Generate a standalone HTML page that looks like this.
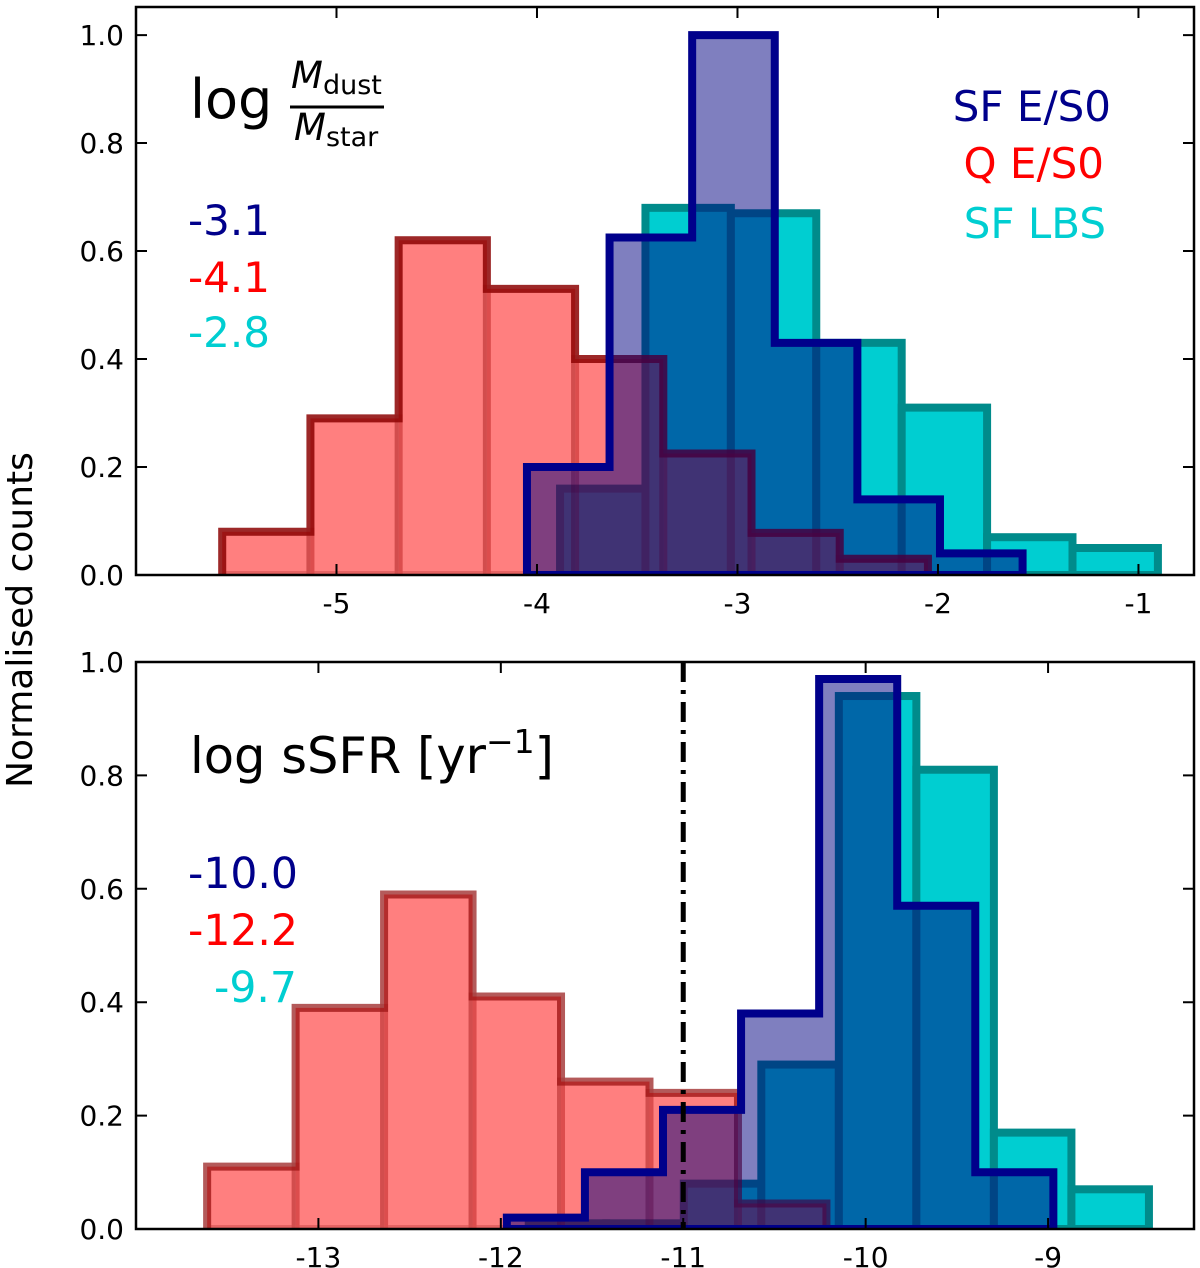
<!DOCTYPE html>
<html><head><meta charset="utf-8"><style>
html,body{margin:0;padding:0;background:#fff;}
svg{display:block;font-family:"DejaVu Sans","Liberation Sans",sans-serif;}
</style></head><body>
<svg id="chart" width="1200" height="1268" viewBox="0 0 1200 1268" xmlns="http://www.w3.org/2000/svg">
<g id="top"></g>
<g id="bot"></g>
<text x="0" y="0" transform="translate(32,620) rotate(-90)" text-anchor="middle" font-size="36">Normalised counts</text>
<g>
<text x="190" y="118" font-size="54">log</text>
<text x="291" y="88" font-size="37" font-style="italic">M<tspan font-style="normal" font-size="27" dy="6">dust</tspan></text>
<line x1="290" y1="107" x2="384" y2="107" stroke="#000" stroke-width="3"/>
<text x="294" y="140" font-size="37" font-style="italic">M<tspan font-style="normal" font-size="27" dy="6">star</tspan></text>
<text x="1111" y="121" text-anchor="end" font-size="42" fill="#00008b">SF E/S0</text>
<text x="1104" y="178" text-anchor="end" font-size="42" fill="#ff0000">Q E/S0</text>
<text x="1106" y="238" text-anchor="end" font-size="42" fill="#00ced1">SF LBS</text>
<text x="188" y="235" font-size="42" fill="#00008b">-3.1</text>
<text x="188" y="292" font-size="42" fill="#ff0000">-4.1</text>
<text x="188" y="347" font-size="42" fill="#00ced1">-2.8</text>
</g>
<g>
<text x="190" y="773" font-size="49.5">log sSFR [yr<tspan font-size="33" dy="-20">−1</tspan><tspan dy="20">]</tspan></text>
<text x="188" y="888" font-size="42.5" fill="#00008b">-10.0</text>
<text x="188" y="945" font-size="42.5" fill="#ff0000">-12.2</text>
<text x="214" y="1002" font-size="42.5" fill="#00ced1">-9.7</text>
</g>
</svg>
<script>
// ---- Top panel data (log Mdust/Mstar) ----
const topXTicks = [-5, -4, -3, -2, -1];
const topYTicks = [0.0, 0.2, 0.4, 0.6, 0.8, 1.0];
const topQStart = -5.57, topQWidth = 0.44;
const topQCounts = [0.08, 0.29, 0.62, 0.53, 0.40, 0.225, 0.078, 0.03];
const topLbsStart = -3.885, topLbsWidth = 0.426;
const topLbsCounts = [0.16, 0.68, 0.67, 0.43, 0.31, 0.07, 0.05];
const topSfStart = -4.05, topSfWidth = 0.412;
const topSfCounts = [0.20, 0.625, 1.0, 0.43, 0.14, 0.04];
// ---- Bottom panel data (log sSFR) ----
const botXTicks = [-13, -12, -11, -10, -9];
const botYTicks = [0.0, 0.2, 0.4, 0.6, 0.8, 1.0];
const botQStart = -13.61, botQWidth = 0.485;
const botQCounts = [0.11, 0.39, 0.59, 0.41, 0.26, 0.24, 0.045];
const botLbsStart = -11.847, botLbsWidth = 0.425;
const botLbsCounts = [0.01, 0.01, 0.08, 0.29, 0.94, 0.81, 0.17, 0.07];
const botSfStart = -11.967, botSfWidth = 0.428;
const botSfCounts = [0.02, 0.10, 0.21, 0.38, 0.97, 0.57, 0.10];
const threshold = -11;

const NS = "http://www.w3.org/2000/svg";
function mk(parent, tag, attrs){
  const e = document.createElementNS(NS, tag);
  for (const k in attrs) e.setAttribute(k, attrs[k]);
  parent.appendChild(e);
  return e;
}

function stepPath(xs, ys, s){
  let d = 'M' + xs(s.start) + ',' + ys(0);
  s.counts.forEach((c, i) => {
    const a = s.start + i * s.width;
    d += ' L' + xs(a) + ',' + ys(c) + ' L' + xs(a + s.width) + ',' + ys(c);
  });
  d += ' L' + xs(s.start + s.counts.length * s.width) + ',' + ys(0);
  return d;
}

function panel(g, cfg){
  const xs = v => cfg.px0 + (v - cfg.xmin) / (cfg.xmax - cfg.xmin) * (cfg.px1 - cfg.px0);
  const ys = v => cfg.py0 - (v - cfg.ymin) / (cfg.ymax - cfg.ymin) * (cfg.py0 - cfg.py1);
  const clip = mk(g, 'clipPath', {id: cfg.id + '-clip'});
  mk(clip, 'rect', {x: cfg.px0, y: cfg.py1, width: cfg.px1 - cfg.px0, height: cfg.py0 - cfg.py1});
  const plot = mk(g, 'g', {'clip-path': 'url(#' + cfg.id + '-clip)'});

  // cyan bars
  cfg.lbs.counts.forEach((c, i) => {
    const a = cfg.lbs.start + i * cfg.lbs.width;
    const r = mk(plot, 'rect', {x: xs(a), y: ys(c), width: xs(a + cfg.lbs.width) - xs(a), height: ys(0) - ys(c),
      fill: '#00ced1', stroke: '#008b8b', 'stroke-width': 8});
    
    
  });
  // red bars
  cfg.q.counts.forEach((c, i) => {
    const a = cfg.q.start + i * cfg.q.width;
    const r = mk(plot, 'rect', {x: xs(a), y: ys(c), width: xs(a + cfg.q.width) - xs(a), height: ys(0) - ys(c),
      fill: 'rgba(255,0,0,0.5)', stroke: 'rgba(139,0,0,0.22)', 'stroke-width': 8});
    
    
  });
  const qo = mk(plot, 'path', {d: stepPath(xs, ys, cfg.q), fill: 'none', stroke: cfg.qStroke, 'stroke-width': 8});
  
  

  // navy step-filled
  const p = mk(plot, 'path', {d: stepPath(xs, ys, cfg.sf) + ' Z', fill: 'rgba(0,0,128,0.5)', stroke: '#00008b', 'stroke-width': 8, 'stroke-linejoin': 'miter'});
  
  

  if (cfg.vline !== undefined){
    const l = mk(plot, 'line', {x1: xs(cfg.vline), x2: xs(cfg.vline), y1: cfg.py1, y2: cfg.py0, stroke: '#000', 'stroke-width': 5, 'stroke-dasharray': '20,8,4,8'});
    
    
  }

  const f = mk(g, 'rect', {x: cfg.px0, y: cfg.py1, width: cfg.px1 - cfg.px0, height: cfg.py0 - cfg.py1, fill: 'none', stroke: '#000', 'stroke-width': 2.5});
  
  

  cfg.xticks.forEach(t => {
    const x = xs(t);
    const tk = mk(g, 'path', {d: 'M' + x + ',' + cfg.py0 + ' v-11 M' + x + ',' + cfg.py1 + ' v11', stroke: '#000', 'stroke-width': 2});
    
    
    const tl = mk(g, 'text', {x: x, y: cfg.py0 + 38, 'text-anchor': 'middle', 'font-size': 28});
    tl.textContent = String(t);
    
    
  });
  cfg.yticks.forEach(t => {
    const y = ys(t);
    const tk = mk(g, 'path', {d: 'M' + cfg.px0 + ',' + y + ' h11 M' + cfg.px1 + ',' + y + ' h-11', stroke: '#000', 'stroke-width': 2});
    
    
    const tl = mk(g, 'text', {x: cfg.px0 - 12, y: y + 10, 'text-anchor': 'end', 'font-size': 28});
    tl.textContent = t.toFixed(1);
    
    
  });
}

panel(document.getElementById('top'), {
  id: 'top', px0: 136, px1: 1194, py0: 575, py1: 7,
  xmin: -6.0, xmax: -0.723, ymin: 0, ymax: 1.052,
  xticks: topXTicks, yticks: topYTicks,
  q: {start: topQStart, width: topQWidth, counts: topQCounts}, qStroke: 'rgba(139,0,0,0.8)',
  lbs: {start: topLbsStart, width: topLbsWidth, counts: topLbsCounts},
  sf: {start: topSfStart, width: topSfWidth, counts: topSfCounts}
});
panel(document.getElementById('bot'), {
  id: 'bot', px0: 136, px1: 1194, py0: 1229, py1: 662,
  xmin: -14.0, xmax: -8.2, ymin: 0, ymax: 1.0,
  xticks: botXTicks, yticks: botYTicks,
  q: {start: botQStart, width: botQWidth, counts: botQCounts}, qStroke: 'rgba(139,0,0,0.55)',
  lbs: {start: botLbsStart, width: botLbsWidth, counts: botLbsCounts},
  sf: {start: botSfStart, width: botSfWidth, counts: botSfCounts},
  vline: threshold
});
</script>
</body></html>
